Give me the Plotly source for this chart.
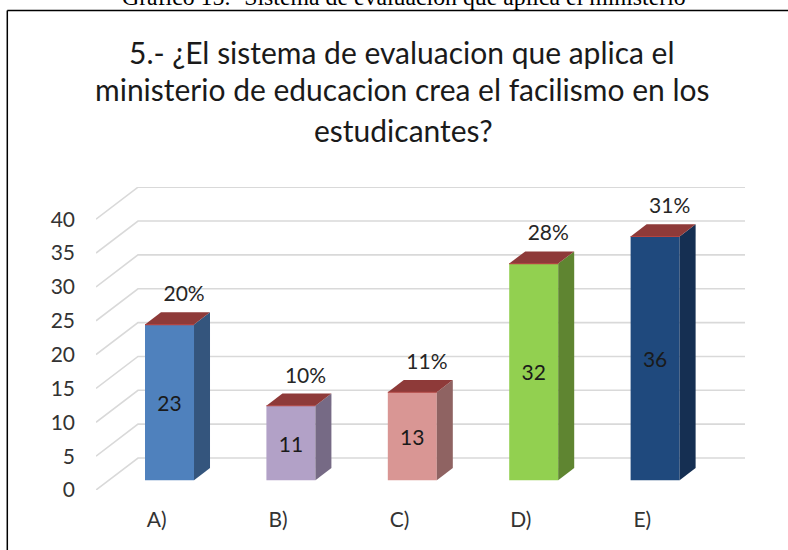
import plotly.graph_objects as go

# ---- data ----
categories = ["A)", "B)", "C)", "D)", "E)"]
counts = [23, 11, 13, 32, 36]
percents = ["20%", "10%", "11%", "28%", "31%"]
y_ticks = [0, 5, 10, 15, 20, 25, 30, 35, 40]
front_colors = ["#4F81BD", "#B2A1C7", "#D99694", "#92D050", "#1F497D"]
side_colors = ["#34557D", "#766A85", "#8F6362", "#5F8531", "#152F52"]
top_color = "#8E3A39"
top_edge_color = "#B24442"
title_lines = [
    "5.- ¿El sistema de evaluacion que aplica el",
    "ministerio de educacion crea el facilismo en los",
    "estudicantes?",
]
caption = "Gráfico 15.- Sistema de evaluación que aplica el ministerio"

# ---- page layout (pixels) ----
W, H = 788, 550
PL, PR, PT, PB = 96, 745, 187, 490      # plot area
CAT_PX = 121.4                           # width of one category
VAL_PX = 6.77                            # height of one value unit
X_MIN = -0.5
X_MAX = X_MIN + (PR - PL) / CAT_PX
Y_MAX = (PB - PT) / VAL_PX

# pseudo-3D projection: depth runs from 0 (front of the floor) to 1 (back wall)
DX = 42 / CAT_PX
DY = 32 / VAL_PX
BAR_W = 49 / CAT_PX
D_FRONT = 0.305
D_BACK = 0.686


def px(x):
    return (x - PL) / (PR - PL)


def py(y):
    return (PB - y) / (PB - PT)


def proj(cat, val, depth):
    return cat + DX * depth, val + DY * depth


# gridlines on the side and back walls (below the traces)
shapes = []
for t in y_ticks:
    x0, y0 = proj(X_MIN, t, 0)
    x1, y1 = proj(X_MIN, t, 1)
    shapes.append(dict(
        type="path", layer="below", xref="x", yref="y",
        path=f"M {x0} {y0} L {x1} {y1} L {X_MAX} {y1}",
        line=dict(color="#D9D9D9", width=1.6),
    ))

# page frame
shapes.append(dict(type="line", xref="paper", yref="paper",
                   x0=px(7.3), x1=px(788), y0=py(10.5), y1=py(10.5),
                   line=dict(color="#000000", width=1.5)))
shapes.append(dict(type="line", xref="paper", yref="paper",
                   x0=px(7.3), x1=px(7.3), y0=py(10.5), y1=py(550),
                   line=dict(color="#000000", width=1.5)))

fig = go.Figure()

# front faces
idx = list(range(len(categories)))
front_x = [proj(i, 0, D_FRONT)[0] for i in idx]
front_base = [proj(i, 0, D_FRONT)[1] for i in idx]
fig.add_trace(go.Bar(
    x=front_x, y=counts, base=front_base, width=BAR_W,
    marker=dict(color=front_colors, line=dict(width=0)),
    text=[str(v) for v in counts],
    textposition="inside", insidetextanchor="middle", textangle=0,
    insidetextfont=dict(family="Lato", size=21, color="#1A1A1A"),
    hoverinfo="skip", showlegend=False,
))

# side and top faces
for i, v in enumerate(counts):
    xc = i
    r = BAR_W / 2
    a = proj(xc + r, 0, D_FRONT)
    b = proj(xc + r, 0, D_BACK)
    c = proj(xc + r, v, D_BACK)
    d = proj(xc + r, v, D_FRONT)
    fig.add_trace(go.Scatter(
        x=[a[0], b[0], c[0], d[0], a[0]], y=[a[1], b[1], c[1], d[1], a[1]],
        mode="lines", fill="toself", fillcolor=side_colors[i],
        line=dict(width=0, color=side_colors[i]),
        hoverinfo="skip", showlegend=False,
    ))
    e = proj(xc - r, v, D_FRONT)
    f = proj(xc - r, v, D_BACK)
    fig.add_trace(go.Scatter(
        x=[e[0], d[0], c[0], f[0], e[0]], y=[e[1], d[1], c[1], f[1], e[1]],
        mode="lines", fill="toself", fillcolor=top_color,
        line=dict(width=0, color=top_color),
        hoverinfo="skip", showlegend=False,
    ))
    fig.add_trace(go.Scatter(
        x=[e[0], d[0]], y=[e[1], d[1]], mode="lines",
        line=dict(width=1.2, color=top_edge_color),
        hoverinfo="skip", showlegend=False,
    ))

# percentage labels above the bars
fig.add_trace(go.Scatter(
    x=[proj(i, 0, D_FRONT)[0] + 0.12 for i in idx],
    y=[proj(i, v, D_FRONT)[1] + 28.5 / VAL_PX for i, v in enumerate(counts)],
    mode="text", text=percents, textposition="middle center",
    textfont=dict(family="Lato", size=21, color="#262626"),
    hoverinfo="skip", showlegend=False, cliponaxis=False,
))

annotations = [
    dict(text=title_lines[0], x=px(402), y=py(51.5)),
    dict(text=title_lines[1], x=px(402.5), y=py(89.5)),
    dict(text=title_lines[2], x=px(403), y=py(130)),
]
for an in annotations:
    an.update(xref="paper", yref="paper", xanchor="center", yanchor="middle",
              showarrow=False, font=dict(family="Lato", size=30, color="#1A1A1A"))
annotations.append(dict(
    text=caption, x=px(403.5), y=py(-3), xref="paper", yref="paper",
    xanchor="center", yanchor="middle", showarrow=False,
    font=dict(family="Liberation Serif", size=23.8, color="#000000"),
))

fig.update_layout(
    width=W, height=H,
    autosize=False,
    margin=dict(l=PL, r=W - PR, t=PT, b=H - PB, pad=0),
    paper_bgcolor="#FFFFFF", plot_bgcolor="rgba(0,0,0,0)",
    showlegend=False,
    shapes=shapes,
    annotations=annotations,
    xaxis=dict(
        range=[X_MIN, X_MAX], tickmode="array", tickvals=idx, ticktext=categories,
        showgrid=False, zeroline=False, showline=False, ticks="",
        ticklabelstandoff=15,
        tickfont=dict(family="Lato", size=21, color="#333333"),
    ),
    yaxis=dict(
        range=[0, Y_MAX], tickmode="array", tickvals=y_ticks,
        showgrid=False, zeroline=False, showline=False, ticks="",
        ticklabelstandoff=20,
        tickfont=dict(family="Lato", size=21, color="#333333"),
    ),
)

fig.write_html("out.html", config={"displayModeBar": False},
               post_script="document.body.style.margin='0';")
